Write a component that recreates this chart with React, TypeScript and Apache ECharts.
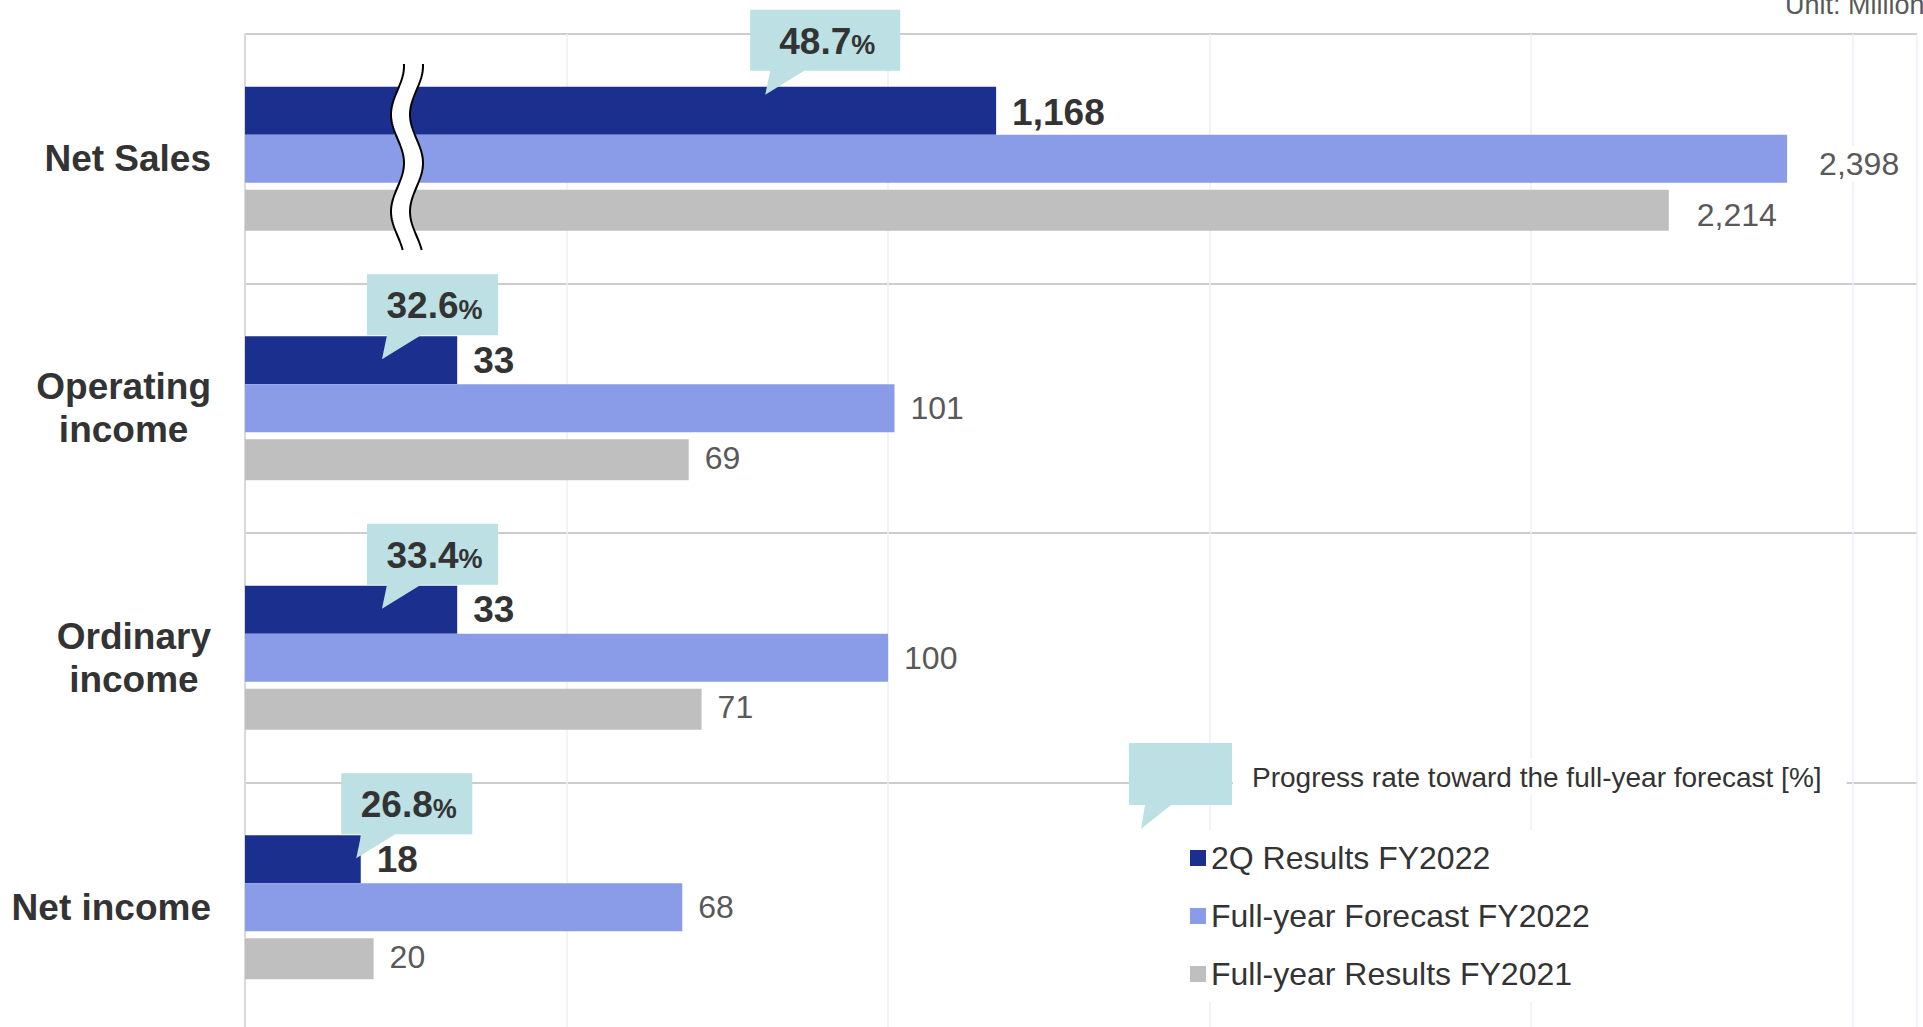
import React, { useEffect, useRef } from 'react';
import * as echarts from 'echarts';

// ---------- data ----------
const categories = ['Net Sales', 'Operating\nincome', 'Ordinary\nincome', 'Net income'];
const results2Q = [1168, 33, 33, 18];
const forecastFY2022 = [2398, 101, 100, 68];
const resultsFY2021 = [2214, 69, 71, 20];
const progressRate = [48.7, 32.6, 33.4, 26.8];
const seriesNames = ['2Q Results FY2022', 'Full-year Forecast FY2022', 'Full-year Results FY2021'];
// Net Sales is drawn on a broken axis (1/10 scale)
const axisDivisor = [10, 1, 1, 1];
const xMin = 0;
const xMax = 260;
const xInterval = 50;

// ---------- layout / style ----------
const FONT = "'Liberation Sans', Arial, sans-serif";
const C_DARK = '#1b2f8f';
const C_LIGHT = '#8a9ce8';
const C_GRAY = '#bfbfbf';
const C_CALLOUT = '#bce0e3';
const W_DARK = 48;
const W_LIGHT = 48;
const W_SPACE = 7;
const W_GRAY = 41;
const GROUP = W_DARK + W_LIGHT + W_SPACE + W_GRAY;
// callout layout (tip position in axis units, box width, extra lift)
const CALLOUT_TIP = [80.9, 21.3, 21.3, 17.3];
const CALLOUT_W = [150, 131, 131, 131];
const CALLOUT_LIFT = [15, 0, 0, 0];

const fmt = (v: number) => v.toLocaleString('en-US');

function wavePoints(dx: number) {
  const pts: number[][] = [];
  for (let y = 64; y <= 251; y += 2) {
    pts.push([407 + dx + 6.5 * Math.cos((2 * Math.PI * (y - 66)) / 97), y]);
  }
  return pts;
}

export default function App() {
  const ref = useRef<HTMLDivElement>(null);
  useEffect(() => {
    if (!ref.current) return;
    const chart = echarts.init(ref.current, undefined, { renderer: 'svg' });

    const lightLabelBase = {
      show: true,
      position: 'right',
      distance: 12,
      fontSize: 32,
      color: '#595959',
      fontFamily: FONT,
      backgroundColor: '#fff',
      padding: [2, 4],
    };

    const option: any = {
      animation: false,
      textStyle: { fontFamily: FONT },
      grid: {
        left: 245,
        right: 6,
        top: 34,
        height: 998,
        containLabel: false,
        outerBoundsMode: 'none',
      },
      xAxis: {
        type: 'value',
        min: xMin,
        max: xMax,
        interval: xInterval,
        axisLabel: { show: false },
        axisLine: { show: false },
        axisTick: { show: false },
        splitLine: { show: true, lineStyle: { color: '#eeeef6', width: 1.5 } },
      },
      yAxis: {
        type: 'category',
        inverse: true,
        data: categories,
        axisTick: { show: false },
        axisLine: { show: true, lineStyle: { color: '#d9d9d9', width: 2 } },
        splitLine: { show: true, interval: 0, lineStyle: { color: '#bdbdbd', width: 1.5 } },
        axisLabel: {
          interval: 0,
          margin: 34,
          align: 'right',
          formatter: (v: string) =>
            v
              .split('\n')
              .map((l) => `{c|${l}}`)
              .join('\n'),
          rich: {
            c: {
              align: 'center',
              fontSize: 37,
              fontWeight: 'bold',
              color: '#333333',
              lineHeight: 43,
              fontFamily: FONT,
            },
          },
        },
      },
      legend: {
        orient: 'vertical',
        left: 1180,
        top: 830,
        data: seriesNames,
        icon: 'rect',
        itemWidth: 16,
        itemHeight: 16,
        itemGap: 26,
        itemTextGap: 10,
        selectedMode: false,
        backgroundColor: '#ffffff',
        padding: [12, 20, 12, 10],
        textStyle: { fontSize: 32, color: '#333333', lineHeight: 32, fontFamily: FONT },
      },
      series: [
        {
          name: seriesNames[0],
          type: 'bar',
          barWidth: W_DARK,
          barGap: '0%',
          itemStyle: { color: C_DARK },
          z: 2,
          data: results2Q.map((v, i) => ({
            value: v / axisDivisor[i],
            label: i === 0 ? { offset: [0, 2] } : {},
          })),
          label: {
            show: true,
            position: 'right',
            distance: 16,
            fontSize: 37,
            fontWeight: 'bold',
            color: '#333333',
            fontFamily: FONT,
            formatter: (p: any) => fmt(results2Q[p.dataIndex]),
          },
        },
        {
          name: seriesNames[1],
          type: 'bar',
          barWidth: W_LIGHT,
          barGap: '0%',
          itemStyle: { color: C_LIGHT },
          z: 2,
          data: forecastFY2022.map((v, i) => ({
            value: v / axisDivisor[i],
            label: i === 0 ? { distance: 28, offset: [0, 5] } : {},
          })),
          label: { ...lightLabelBase, formatter: (p: any) => fmt(forecastFY2022[p.dataIndex]) },
        },
        {
          name: 'spacer',
          type: 'bar',
          barWidth: W_SPACE,
          barGap: '0%',
          silent: true,
          itemStyle: { color: 'rgba(0,0,0,0)' },
          data: categories.map(() => 0),
        },
        {
          name: seriesNames[2],
          type: 'bar',
          barWidth: W_GRAY,
          barGap: '0%',
          itemStyle: { color: C_GRAY },
          z: 2,
          data: resultsFY2021.map((v, i) => ({
            value: v / axisDivisor[i],
            label: i === 0 ? { distance: 24, offset: [0, 5] } : { offset: [0, -2] },
          })),
          label: { ...lightLabelBase, formatter: (p: any) => fmt(resultsFY2021[p.dataIndex]) },
        },
        {
          name: 'progress',
          type: 'custom',
          clip: false,
          z: 5,
          silent: true,
          encode: { x: 0, y: 1 },
          data: progressRate.map((r, i) => [CALLOUT_TIP[i], i, r]),
          renderItem: (params: any, api: any) => {
            const i = api.value(1);
            const rate = api.value(2);
            const p = api.coord([api.value(0), i]);
            const barTop = p[1] - GROUP / 2;
            const B = barTop - 1 - CALLOUT_LIFT[i];
            const T = B - 61;
            const tipX = p[0];
            const tipY = B + 24;
            const L = tipX - 15;
            const W = CALLOUT_W[i];
            const R = L + W;
            return {
              type: 'group',
              children: [
                {
                  type: 'polygon',
                  shape: {
                    points: [
                      [L, T],
                      [R, T],
                      [R, B],
                      [L + 54, B],
                      [tipX, tipY],
                      [L + 20, B],
                      [L, B],
                    ],
                  },
                  style: { fill: C_CALLOUT },
                },
                {
                  type: 'text',
                  x: L + W / 2 + 2,
                  y: T + 30,
                  style: {
                    text: `{a|${Number(rate).toFixed(1)}}{b|%}`,
                    align: 'center',
                    verticalAlign: 'middle',
                    rich: {
                      a: {
                        fontSize: 37,
                        fontWeight: 'bold',
                        fill: '#333333',
                        fontFamily: FONT,
                        verticalAlign: 'bottom',
                        lineHeight: 40,
                      },
                      b: {
                        fontSize: 27,
                        fontWeight: 'bold',
                        fill: '#333333',
                        fontFamily: FONT,
                        verticalAlign: 'bottom',
                        lineHeight: 40,
                        padding: [0, 0, 1, 0],
                      },
                    },
                  },
                },
              ],
            };
          },
        },
      ],
      graphic: [
        // axis break mark on Net Sales
        {
          type: 'polyline',
          z: 20,
          shape: { points: wavePoints(0) },
          style: { stroke: '#ffffff', lineWidth: 19, fill: null },
        },
        {
          type: 'polyline',
          z: 21,
          shape: { points: wavePoints(-9.5) },
          style: { stroke: '#000000', lineWidth: 2, fill: null },
        },
        {
          type: 'polyline',
          z: 21,
          shape: { points: wavePoints(9.5) },
          style: { stroke: '#000000', lineWidth: 2, fill: null },
        },
        // progress-rate legend callout
        {
          type: 'polygon',
          z: 20,
          shape: {
            points: [
              [1129, 743],
              [1232, 743],
              [1232, 805],
              [1171, 805],
              [1141, 829],
              [1145, 805],
              [1129, 805],
            ],
          },
          style: { fill: C_CALLOUT },
        },
        {
          type: 'text',
          z: 20,
          x: 1233,
          y: 777,
          style: {
            text: 'Progress rate toward the full-year forecast [%]',
            fontSize: 28,
            fill: '#333333',
            fontFamily: FONT,
            verticalAlign: 'middle',
            align: 'left',
            backgroundColor: '#ffffff',
            padding: [4, 25, 4, 19],
          },
        },
        {
          type: 'text',
          z: 20,
          x: 1785,
          y: 5,
          style: {
            text: 'Unit: Million',
            fontSize: 27,
            fill: '#595959',
            fontFamily: FONT,
            verticalAlign: 'middle',
            align: 'left',
          },
        },
      ],
    };

    chart.setOption(option);
    return () => chart.dispose();
  }, []);

  return (
    <div
      ref={ref}
      style={{ position: 'absolute', left: 0, top: 0, width: 1923, height: 1027, background: '#fff' }}
    />
  );
}
